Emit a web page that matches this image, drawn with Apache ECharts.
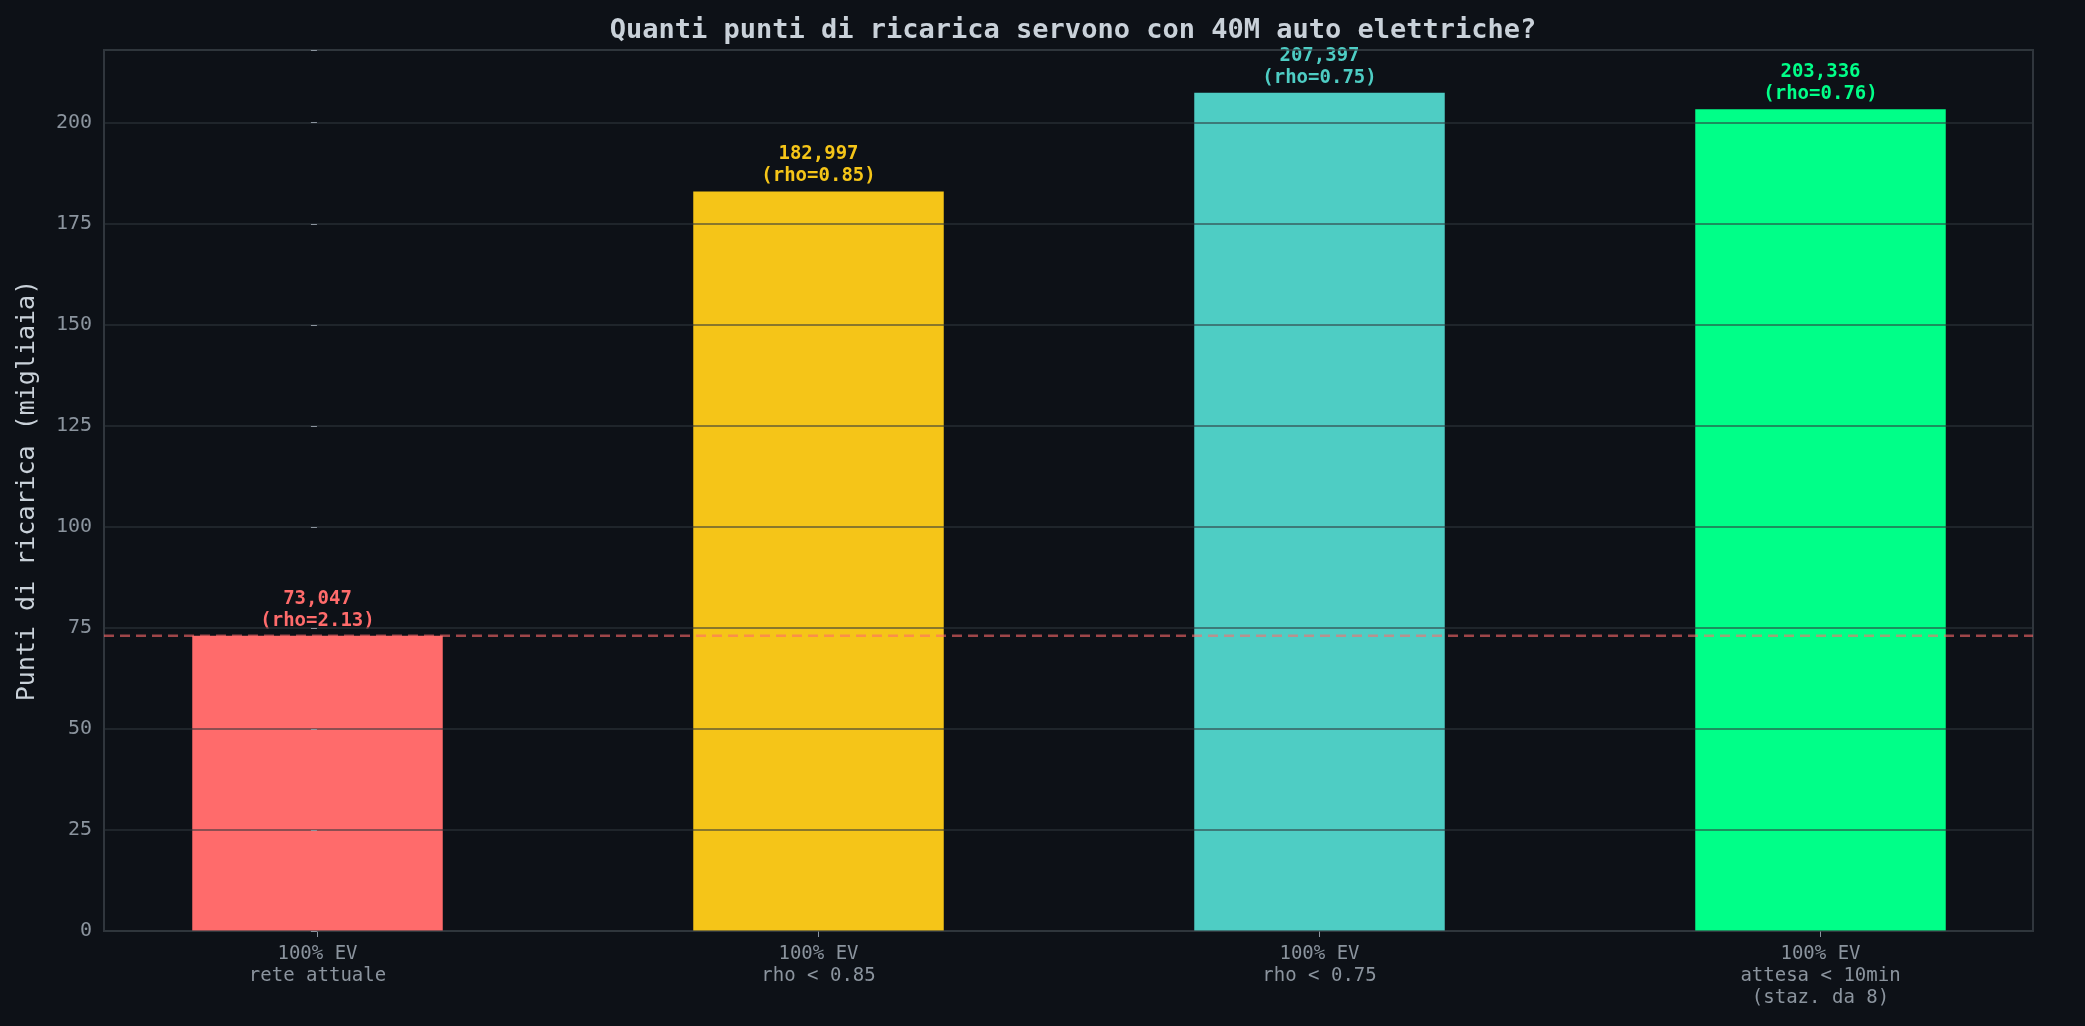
<!DOCTYPE html>
<html>
<head>
<meta charset="utf-8">
<script src="https://cdn.jsdelivr.net/npm/echarts@6/dist/echarts.min.js"></script>
<style>
  html, body { margin: 0; padding: 0; background: #0d1117; }
  #main { width: 2085px; height: 1026px; }
</style>
</head>
<body>
<div id="main"></div>
<script>
// dati
var categories = ['100% EV\nrete attuale', '100% EV\nrho < 0.85', '100% EV\nrho < 0.75', '100% EV\nattesa < 10min\n(staz. da 8)']
var values = [73.047, 182.997, 207.397, 203.336]
var valueLabels = ['73,047', '182,997', '207,397', '203,336']
var rhoLabels = ['(rho=2.13)', '(rho=0.85)', '(rho=0.75)', '(rho=0.76)']
var barColors = ['#ff6b6b', '#f5c518', '#4ecdc4', '#00ff88']
var labelColors = ['#ff6b6b', '#f5c518', '#4ecdc4', '#00ff88']
var oggi = 73.047
var yTicks = [0, 25, 50, 75, 100, 125, 150, 175, 200]

var font = 'DejaVu Sans Mono'
var myChart = echarts.init(document.getElementById('main'))

var barData = values.map(function (v, i) {
    return {
        value: v,
        itemStyle: { color: barColors[i] },
        label: {
            formatter: valueLabels[i] + '\n' + rhoLabels[i],
            color: labelColors[i]
        }
    }
})

var option = {
    backgroundColor: '#0d1117',
    animation: false,
    title: {
        text: 'Quanti punti di ricarica servono con 40M auto elettriche?',
        left: 1068, top: 12, textAlign: 'center',
        textStyle: { color: '#c9d1d9', fontFamily: font, fontSize: 27, fontWeight: 'bold' }
    },
    grid: [
        // griglia visibile con bordo e asse y
        { left: 104, right: 52, top: 50, bottom: 95, show: true, borderColor: '#30363d', borderWidth: 2, backgroundColor: 'transparent' },
        // griglia per le barre (bande di categoria allineate)
        { left: 67, right: 14, top: 50, bottom: 95 }
    ],
    xAxis: [
        { gridIndex: 0, type: 'value', min: -0.425, max: 3.425, show: false },
        {
            gridIndex: 1, type: 'category', data: categories,
            axisLine: { show: false },
            axisTick: { show: true, alignWithLabel: true, length: 6, lineStyle: { color: '#8b949e' } },
            axisLabel: { color: '#8b949e', fontFamily: font, fontSize: 19, lineHeight: 22, margin: 12 }
        }
    ],
    yAxis: [
        {
            gridIndex: 0, type: 'value', min: 0, max: 218, interval: 25,
            name: 'Punti di ricarica (migliaia)', nameLocation: 'middle', nameGap: 64,
            nameTextStyle: { color: '#c9d1d9', fontFamily: font, fontSize: 25 },
            axisLine: { show: false },
            axisTick: { show: true, length: 6, lineStyle: { color: '#8b949e' } },
            axisLabel: {
                color: '#8b949e', fontFamily: font, fontSize: 20, margin: 12,
                formatter: function (v) { return yTicks.indexOf(v) >= 0 ? v : '' }
            },
            splitLine: { show: true, lineStyle: { color: 'rgba(48,54,61,0.55)', width: 2 } },
            z: 10
        },
        { gridIndex: 1, type: 'value', min: 0, max: 218, show: false }
    ],
    series: [
        {
            type: 'bar', xAxisIndex: 1, yAxisIndex: 1,
            data: barData, barWidth: '50%', z: 2,
            label: {
                show: true, position: 'top', distance: 4,
                fontFamily: font, fontSize: 19, fontWeight: 'bold', lineHeight: 22, align: 'center'
            }
        },
        {
            type: 'line', xAxisIndex: 0, yAxisIndex: 0, z: 20,
            data: [[-0.425, oggi], [3.425, oggi]],
            symbol: 'none',
            lineStyle: { color: '#ff6b6b', opacity: 0.6, width: 2.5, type: [10, 6] },
            label: { show: false },
            markPoint: {
                symbol: 'none',
                data: [{ coord: [3.425, oggi], value: 'Oggi: 73,047' }],
                label: {
                    show: true, position: 'top', align: 'right', offset: [38, -2],
                    color: '#ff6b6b', fontFamily: font, fontSize: 20,
                    formatter: 'Oggi: 73,047'
                }
            }
        }
    ]
}

myChart.setOption(option)
</script>
</body>
</html>
